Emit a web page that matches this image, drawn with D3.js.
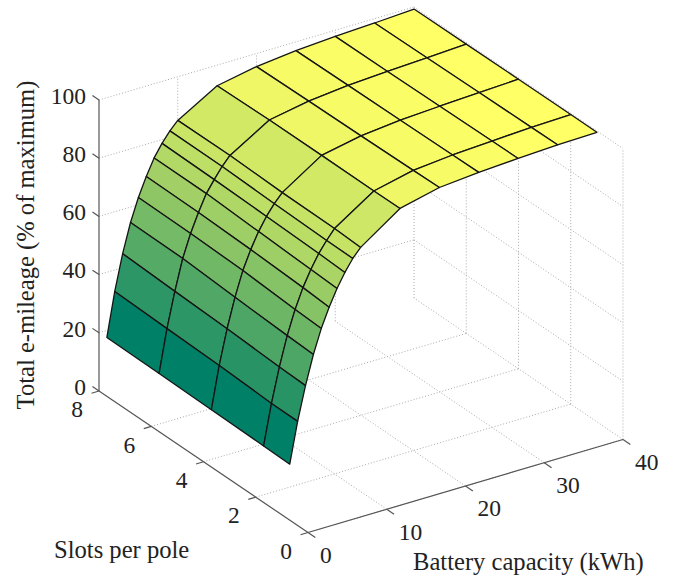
<!DOCTYPE html>
<html><head><meta charset="utf-8">
<script src="https://cdn.jsdelivr.net/npm/d3@7"></script>
<style>html,body{margin:0;padding:0;background:#fff}svg{display:block}text{font-family:"Liberation Serif",serif;fill:#222}</style>
</head><body><div id="chart"></div>
<script>
const slots = [1, 2, 4, 6, 8];
const capacity = [1, 2, 3, 4, 5, 6, 7, 8, 9, 10, 15, 20, 25, 30, 35, 40];
const mileageSlots1 = [16.6, 30.5, 42.0, 51.9, 60.0, 66.5, 72.2, 76.9, 80.9, 83.9, 93.3, 96.5, 97.7, 98.5, 99.2, 99.5];
const mileageSlots2 = [16.8, 30.6, 42.3, 52.3, 60.5, 67.2, 72.6, 77.3, 81.0, 84.3, 93.2, 96.3, 97.6, 98.4, 99.1, 99.5];
const mileageSlots4 = [17.1, 31.5, 43.3, 53.3, 61.7, 68.1, 73.5, 77.9, 81.5, 84.5, 93.3, 96.0, 97.4, 98.2, 98.9, 99.5];
const mileageSlots6 = [17.4, 32.0, 44.0, 54.5, 62.3, 68.7, 74.4, 78.4, 82.1, 85.1, 93.3, 95.8, 97.2, 98.0, 98.7, 99.4];
const mileageSlots8 = [17.6, 32.6, 44.8, 54.7, 62.5, 68.9, 74.5, 78.7, 82.2, 85.0, 92.9, 95.5, 97.0, 97.9, 98.5, 99.3];
const mileage = [mileageSlots1, mileageSlots2, mileageSlots4, mileageSlots6, mileageSlots8];
const slotTicks = [0, 2, 4, 6, 8];
const capacityTicks = [0, 10, 20, 30, 40];
const mileageTicks = [0, 20, 40, 60, 80, 100];
const xLabel = "Battery capacity (kWh)";
const yLabel = "Slots per pole";
const zLabel = "Total e-mileage (% of maximum)";

const W = 673, H = 577;
const svg = d3.select("#chart").append("svg").attr("width", W).attr("height", H);

// Orthographic 3-D projection composed of three linear scales
const capX = d3.scaleLinear().domain([0, 40]).range([0, 315]);
const capY = d3.scaleLinear().domain([0, 40]).range([0, -93]);
const slotX = d3.scaleLinear().domain([0, 8]).range([0, -209]);
const slotY = d3.scaleLinear().domain([0, 8]).range([0, -141.5]);
const zY = d3.scaleLinear().domain([0, 100]).range([0, -291]);
const ORIGIN = [308, 532.5];
const proj = (c, s, z) => [ORIGIN[0] + capX(c) + slotX(s), ORIGIN[1] + capY(c) + slotY(s) + zY(z)];
const line = d3.line();

// MATLAB "summer" colormap, 64 discrete steps
const allZ = mileage.flat();
const tScale = d3.scaleLinear().domain(d3.extent(allZ)).range([0, 1]).clamp(true);
const summer = t => {
  const q = Math.min(63, Math.floor(t * 64)) / 63;
  return d3.rgb(255 * q, 255 * (0.5 + 0.5 * q), 102).formatRgb();
};

// Grid
const grid = svg.append("g").attr("fill", "none").attr("stroke", "#aaa").attr("stroke-width", 1).attr("stroke-dasharray", "1 2");
const gridSegs = [];
capacityTicks.slice(1).forEach(c => { gridSegs.push([proj(c, 0, 0), proj(c, 8, 0)]); gridSegs.push([proj(c, 8, 0), proj(c, 8, 100)]); });
slotTicks.slice(0, -1).forEach(s => { gridSegs.push([proj(0, s, 0), proj(40, s, 0)]); gridSegs.push([proj(40, s, 0), proj(40, s, 100)]); });
mileageTicks.forEach(z => {
  if (z > 0) gridSegs.push([proj(0, 8, z), proj(40, 8, z)], [proj(40, 8, z), proj(40, 0, z)]);
});
grid.selectAll("path").data(gridSegs).join("path").attr("d", line);

// Surface, painted back to front
const quads = [];
for (let i = capacity.length - 2; i >= 0; i--) {
  for (let j = slots.length - 2; j >= 0; j--) {
    quads.push({
      pts: [
        proj(capacity[i], slots[j], mileage[j][i]),
        proj(capacity[i + 1], slots[j], mileage[j][i + 1]),
        proj(capacity[i + 1], slots[j + 1], mileage[j + 1][i + 1]),
        proj(capacity[i], slots[j + 1], mileage[j + 1][i])
      ],
      t: tScale(mileage[j][i])
    });
  }
}
svg.append("g").selectAll("path").data(quads).join("path")
  .attr("d", d => line(d.pts) + "Z")
  .attr("fill", d => summer(d.t))
  .attr("stroke", "#151515").attr("stroke-width", 1.3).attr("stroke-linejoin", "round");

// Axes
const axes = svg.append("g").attr("fill", "none").attr("stroke", "#555").attr("stroke-width", 1.2);
axes.append("path").attr("d", line([proj(0, 8, 0), proj(0, 8, 100)]));
axes.append("path").attr("d", line([proj(0, 8, 0), proj(0, 0, 0)]));
axes.append("path").attr("d", line([proj(0, 0, 0), proj(40, 0, 0)]));
mileageTicks.forEach(z => axes.append("path").attr("d", line([proj(0, 8, z), proj(0, 8.25, z)])));
slotTicks.forEach(s => axes.append("path").attr("d", line([proj(0, s, 0), proj(-0.95, s, 0)])));
capacityTicks.forEach(c => axes.append("path").attr("d", line([proj(c, 0, 0), proj(c, -0.28, 0)])));

// Tick labels
const FS = 23.5, TS = 24.6;
const labels = svg.append("g").attr("font-size", FS);
mileageTicks.forEach(z => {
  const p = proj(0, 8, z);
  labels.append("text").attr("x", p[0] - 13).attr("y", p[1] - 4).attr("dy", "0.33em").attr("text-anchor", "end").text(z);
});
slotTicks.forEach(s => {
  const p = proj(0, s, 0);
  labels.append("text").attr("x", p[0] - 22).attr("y", p[1] + 18.5).attr("dy", "0.33em").attr("text-anchor", "middle").text(s);
});
capacityTicks.forEach(c => {
  const p = proj(c, 0, 0);
  labels.append("text").attr("x", p[0] + 12).attr("y", p[1] + 22.5).attr("dy", "0.33em").attr("text-anchor", "start").text(c);
});

// Axis titles
const titles = svg.append("g").attr("font-size", TS);
titles.append("text").attr("x", 413).attr("y", 570).text(xLabel);
titles.append("text").attr("x", 54).attr("y", 558).text(yLabel);
titles.append("text").attr("transform", "translate(34,245) rotate(-90)").attr("text-anchor", "middle").text(zLabel);
</script>
</body></html>
